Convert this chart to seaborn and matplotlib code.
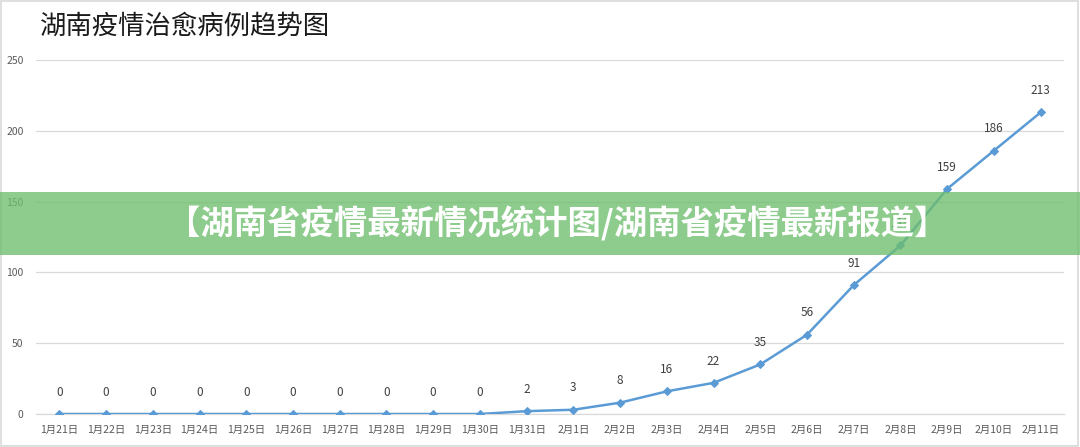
import matplotlib
matplotlib.use("Agg")
import matplotlib.pyplot as plt
from matplotlib.patches import Rectangle
import pandas as pd
import seaborn as sns

# data
dates = ["1月21日", "1月22日", "1月23日", "1月24日", "1月25日", "1月26日",
         "1月27日", "1月28日", "1月29日", "1月30日", "1月31日", "2月1日",
         "2月2日", "2月3日", "2月4日", "2月5日", "2月6日", "2月7日",
         "2月8日", "2月9日", "2月10日", "2月11日"]
cured = [0, 0, 0, 0, 0, 0, 0, 0, 0, 0, 2, 3, 8, 16, 22, 35, 56, 91, 119, 159, 186, 213]
y_ticks = [0, 50, 100, 150, 200, 250]

title = "湖南疫情治愈病例趋势图"
banner = "【湖南省疫情最新情况统计图/湖南省疫情最新报道】"

df = pd.DataFrame({"idx": range(len(dates)), "date": dates, "cured": cured})

sns.set_theme(style="white")
plt.rcParams["font.family"] = ["Noto Sans CJK SC", "DejaVu Sans"]

fig = plt.figure(figsize=(10.8, 4.47), dpi=100)
ax = fig.add_axes([36 / 1080, 33 / 447, 1028 / 1080, 354 / 447])

line_color = "#5B9BD5"
sns.lineplot(data=df, x="idx", y="cured", ax=ax, color=line_color, linewidth=1.8,
             marker="D", markersize=4.5, markeredgecolor=line_color, zorder=3)

for i, v in zip(df["idx"], df["cured"]):
    ax.annotate(str(v), (i, v), xytext=(0, 11), textcoords="offset points",
                ha="center", va="bottom", fontsize=8.5, color="#404040")

ax.set_xlim(-0.5, len(dates) - 0.5)
ax.set_ylim(0, 250)
ax.set_yticks(y_ticks)
ax.set_xticks(df["idx"])
ax.set_xticklabels(dates)
ax.set_xticks([i - 0.5 for i in range(len(dates) + 1)], minor=True)
ax.tick_params(axis="x", which="major", length=0, labelsize=7.5, colors="#595959", pad=8)
ax.tick_params(axis="x", which="minor", length=4, color="#d9d9d9", width=0.8)
ax.tick_params(axis="y", length=0, labelsize=7.5, colors="#595959", pad=9)
ax.set_xlabel("")
ax.set_ylabel("")
ax.grid(axis="y", color="#d9d9d9", linewidth=0.9)
ax.set_axisbelow(True)
for s in ["top", "right", "left"]:
    ax.spines[s].set_visible(False)
ax.spines["bottom"].set_color("#d9d9d9")
ax.spines["bottom"].set_linewidth(0.9)

fig.text(40 / 1080, 1 - 26 / 447, title, fontsize=19, color="#1a1a1a",
         ha="left", va="center", fontweight="medium")

# outer frame
fig.patches.append(Rectangle((0.001, 0.002), 0.997, 0.995, transform=fig.transFigure,
                             fill=False, edgecolor="#d9d9d9", linewidth=1.2))

# green banner overlay (covers the 2月8日 label, as in the source image)
fig.patches.append(Rectangle((0, 192 / 447), 1, 63 / 447, transform=fig.transFigure,
                             facecolor="#6EBE6E", alpha=0.78, edgecolor="none", zorder=10))
fig.text(557 / 1080, 1 - 224 / 447, banner, fontsize=24, color="white",
         fontweight="bold", ha="center", va="center", zorder=11)

fig.savefig("out.png", dpi=100)
